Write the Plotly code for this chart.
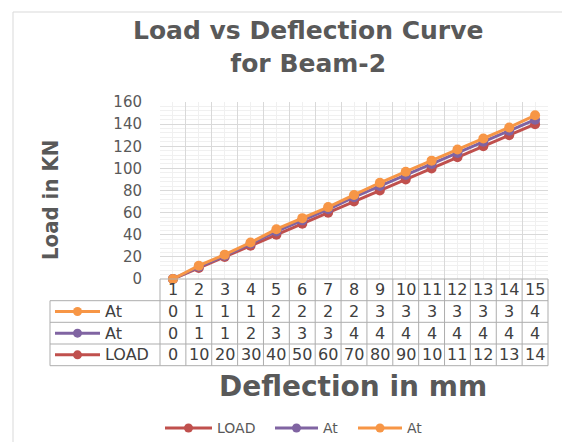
import plotly.graph_objects as go

# ---------------- data ----------------
categories = list(range(1, 16))
load = [0, 10, 20, 30, 40, 50, 60, 70, 80, 90, 100, 110, 120, 130, 140]
at_purple = [0, 1, 1, 2, 3, 3, 3, 4, 4, 4, 4, 4, 4, 4, 4]
at_orange = [0, 1, 1, 1, 2, 2, 2, 2, 3, 3, 3, 3, 3, 3, 4]
series_names = ["LOAD", "At", "At"]
colors = ["#C0504D", "#8064A2", "#F79646"]
y_ticks = [0, 20, 40, 60, 80, 100, 120, 140, 160]

# stacked line (Excel "stacked line" chart)
stack_purple = [a + b for a, b in zip(load, at_purple)]
stack_orange = [a + b for a, b in zip(stack_purple, at_orange)]

W, H = 570, 442
OFF = 8  # page body margin offset
PLOT_L, PLOT_T, PLOT_R, PLOT_B = 160, 102, 548, 279  # target on-screen plot box
L, T = PLOT_L - OFF, PLOT_T - OFF
PW, PH = PLOT_R - PLOT_L, PLOT_B - PLOT_T
R, B = W - L - PW, H - T - PH


def px(xp):
    return (xp - PLOT_L) / PW


def py(yp):
    return (PLOT_B - yp) / PH


fig = go.Figure()
for name, vals, col in zip(series_names, [load, stack_purple, stack_orange], colors):
    fig.add_trace(go.Scatter(
        x=categories, y=vals, name=name, mode="lines+markers",
        line=dict(color=col, width=3),
        marker=dict(color=col, size=10),
        cliponaxis=False, showlegend=False,
    ))

shapes = []
annotations = []
border_col = "#ADADAD"
tfont = dict(family="DejaVu Sans", size=16, color="#404040")
gray = "#595959"

# table rows: header, orange At, purple At, LOAD
row_edges = [279, 300.7, 322.3, 344, 365.7]
n = len(categories)
for k in range(n + 1):
    xp = k / n
    shapes.append(dict(type="line", xref="paper", yref="paper", x0=xp, x1=xp,
                       y0=py(row_edges[0]), y1=py(row_edges[-1]),
                       line=dict(color=border_col, width=1)))
shapes.append(dict(type="line", xref="paper", yref="paper", x0=px(50), x1=px(50),
                   y0=py(row_edges[1]), y1=py(row_edges[-1]),
                   line=dict(color=border_col, width=1)))
for i, ye in enumerate(row_edges):
    x0 = px(160) if i == 0 else px(50)
    shapes.append(dict(type="line", xref="paper", yref="paper", x0=x0, x1=1,
                       y0=py(ye), y1=py(ye), line=dict(color=border_col, width=1)))

yc = py((row_edges[0] + row_edges[1]) / 2)
for c in categories:
    annotations.append(dict(x=c, y=yc, xref="x", yref="paper", text=str(c),
                            showarrow=False, font=tfont, xanchor="center", yanchor="middle"))


def key(x0p, x1p, ycp, col):
    mid = (x0p + x1p) / 2
    rr = 4.5
    shapes.append(dict(type="line", xref="paper", yref="paper", x0=px(x0p), x1=px(x1p),
                       y0=py(ycp), y1=py(ycp), line=dict(color=col, width=3)))
    shapes.append(dict(type="circle", xref="paper", yref="paper",
                       x0=px(mid - rr), x1=px(mid + rr), y0=py(ycp + rr), y1=py(ycp - rr),
                       fillcolor=col, line=dict(color=col, width=0)))


table_rows = [("At", at_orange, colors[2]), ("At", at_purple, colors[1]), ("LOAD", load, colors[0])]
for r, (name, vals, col) in enumerate(table_rows):
    y0, y1 = row_edges[r + 1], row_edges[r + 2]
    ycp = (y0 + y1) / 2
    ycen = py(ycp)
    for c, v in zip(categories, vals):
        annotations.append(dict(x=c, y=ycen, xref="x", yref="paper", text=str(v)[:2],
                                showarrow=False, font=tfont, xanchor="center", yanchor="middle"))
    key(55, 100, ycp, col)
    annotations.append(dict(x=px(103), y=ycen, xref="paper", yref="paper", text=name,
                            showarrow=False, font=tfont, xanchor="left", yanchor="middle"))

# bottom legend
legend_pos = [(165, 212), (275, 318), (358, 402)]
for name, col, (a, b) in zip(series_names, colors, legend_pos):
    key(a, b, 428, col)
    annotations.append(dict(x=px(b + 3), y=py(428), xref="paper", yref="paper", text=name,
                            showarrow=False, font=dict(family="DejaVu Sans", size=14, color=gray),
                            xanchor="left", yanchor="middle"))

# chart frame (left and top edges)
shapes.append(dict(type="line", xref="paper", yref="paper", x0=px(13), x1=px(13),
                   y0=py(12), y1=py(H + 20), line=dict(color="#D9D9D9", width=1)))
shapes.append(dict(type="line", xref="paper", yref="paper", x0=px(13), x1=px(W + 20),
                   y0=py(12), y1=py(12), line=dict(color="#D9D9D9", width=1)))

# titles
annotations.append(dict(x=px(308), y=py(47), xref="paper", yref="paper",
                        text="<b>Load vs Deflection Curve<br>for Beam-2</b>", showarrow=False,
                        font=dict(family="DejaVu Sans", size=25, color=gray),
                        xanchor="center", yanchor="middle"))
annotations.append(dict(x=px(353), y=py(386), xref="paper", yref="paper",
                        text="<b>Deflection in mm</b>", showarrow=False,
                        font=dict(family="DejaVu Sans", size=28, color=gray),
                        xanchor="center", yanchor="middle"))
annotations.append(dict(x=px(50), y=py(200), xref="paper", yref="paper",
                        text="<b>Load in KN</b>", showarrow=False, textangle=-90,
                        font=dict(family="Liberation Sans Narrow, DejaVu Sans Condensed", size=22,
                                  color=gray),
                        xanchor="center", yanchor="middle"))

fig.update_layout(
    width=W, height=H,
    margin=dict(l=L, r=R, t=T, b=B),
    paper_bgcolor="white", plot_bgcolor="white",
    showlegend=False,
    shapes=shapes, annotations=annotations,
    font=dict(family="DejaVu Sans"),
)
fig.update_xaxes(
    range=[0.5, 15.5], tickmode="array",
    tickvals=[c - 0.5 for c in categories] + [categories[-1] + 0.5],
    showticklabels=False, ticks="", showgrid=True, gridcolor="#D9D9D9", gridwidth=1,
    minor=dict(tickmode="array", tickvals=categories, showgrid=True, gridcolor="#F0F0F0"),
    zeroline=False, showline=False, fixedrange=True,
)
fig.update_yaxes(
    range=[0, 160], tickmode="array", tickvals=y_ticks,
    ticktext=[str(v) for v in y_ticks],
    tickfont=dict(family="DejaVu Sans", size=15, color=gray),
    ticklabelstandoff=17, ticks="",
    showgrid=True, gridcolor="#D9D9D9", gridwidth=1,
    minor=dict(dtick=4, showgrid=True, gridcolor="#F0F0F0"),
    zeroline=False, showline=False,
)

fig.write_html("out.html")
